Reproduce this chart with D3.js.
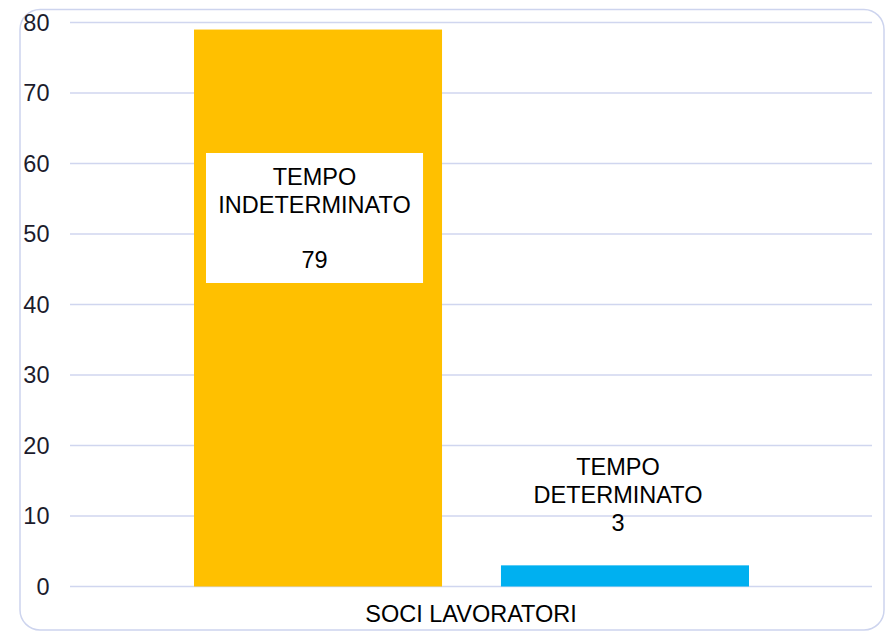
<!DOCTYPE html>
<html>
<head>
<meta charset="utf-8">
<script src="https://cdn.jsdelivr.net/npm/d3@7"></script>
<style>
  body { margin: 0; background: #fff; }
  svg { display: block; font-family: "Liberation Sans", Arial, sans-serif; }
</style>
</head>
<body>
<script>
'use strict';

var category = "SOCI LAVORATORI";
var seriesNames = ["TEMPO INDETERMINATO", "TEMPO DETERMINATO"];
var seriesValues = [79, 3];
var seriesColors = ["#ffc000", "#00b0f0"];
var yTicks = [0, 10, 20, 30, 40, 50, 60, 70, 80];

var width = 888, height = 632, fs = 23.5;
var svg = d3.select("body").append("svg")
  .attr("width", width)
  .attr("height", height);

// chart frame
svg.append("rect")
  .attr("x", 20).attr("y", 9.5)
  .attr("width", 864).attr("height", 620.5)
  .attr("rx", 20).attr("ry", 20)
  .attr("fill", "#fff")
  .attr("stroke", "#cdd4ee")
  .attr("stroke-width", 1.5);

var plotLeft = 70, plotRight = 872;

var yScale = d3.scaleLinear()
  .domain([0, 80])
  .range([586.5, 22.5]);

var xBand = d3.scaleBand()
  .domain(seriesNames)
  .range([194, 749])
  .paddingInner(0.192)
  .paddingOuter(0);

// grid lines
svg.append("g").selectAll("line")
  .data(yTicks)
  .join("line")
    .attr("x1", plotLeft).attr("x2", plotRight)
    .attr("y1", d => yScale(d)).attr("y2", d => yScale(d))
    .attr("stroke", "#d0d6ef")
    .attr("stroke-width", 1.5);

// y axis labels
var yAxis = d3.axisLeft(yScale).tickValues(yTicks).tickSize(0).tickPadding(0);
var gy = svg.append("g")
  .attr("transform", "translate(49.5,0)")
  .call(yAxis);
gy.select(".domain").remove();
gy.selectAll("text")
  .attr("font-size", fs)
  .attr("font-family", "Liberation Sans, Arial, sans-serif")
  .attr("fill", "#1c1c2c");

// bars
var bars = seriesNames.map((n, i) => ({name: n, value: seriesValues[i], color: seriesColors[i]}));
svg.append("g").selectAll("rect")
  .data(bars)
  .join("rect")
    .attr("x", d => xBand(d.name))
    .attr("y", d => yScale(d.value))
    .attr("width", xBand.bandwidth())
    .attr("height", d => yScale(0) - yScale(d.value))
    .attr("fill", d => d.color);

// label for the big bar: white box inside
var b0 = bars[0];
var cx0 = 314.5;
svg.append("rect")
  .attr("x", xBand(b0.name) + 12)
  .attr("y", 153)
  .attr("width", xBand.bandwidth() - 31)
  .attr("height", 130)
  .attr("fill", "#fff");
var words0 = b0.name.split(" ");
var lbl0 = svg.append("text")
  .attr("text-anchor", "middle")
  .attr("font-size", fs)
  .attr("fill", "#000");
lbl0.append("tspan").attr("x", cx0).attr("y", 185).text(words0[0]);
lbl0.append("tspan").attr("x", cx0).attr("y", 213).text(words0[1]);
lbl0.append("tspan").attr("x", cx0).attr("y", 268).text(b0.value);

// label for the small bar: above
var b1 = bars[1];
var cx1 = 618;
var words1 = b1.name.split(" ");
var lbl1 = svg.append("text")
  .attr("text-anchor", "middle")
  .attr("font-size", fs)
  .attr("fill", "#000");
lbl1.append("tspan").attr("x", cx1).attr("y", 475).text(words1[0]);
lbl1.append("tspan").attr("x", cx1).attr("y", 503).text(words1[1]);
lbl1.append("tspan").attr("x", cx1).attr("y", 531).text(b1.value);

// category label
svg.append("text")
  .attr("x", (plotLeft + plotRight) / 2)
  .attr("y", 622)
  .attr("text-anchor", "middle")
  .attr("font-size", fs)
  .attr("fill", "#000")
  .text(category);
</script>
</body>
</html>
